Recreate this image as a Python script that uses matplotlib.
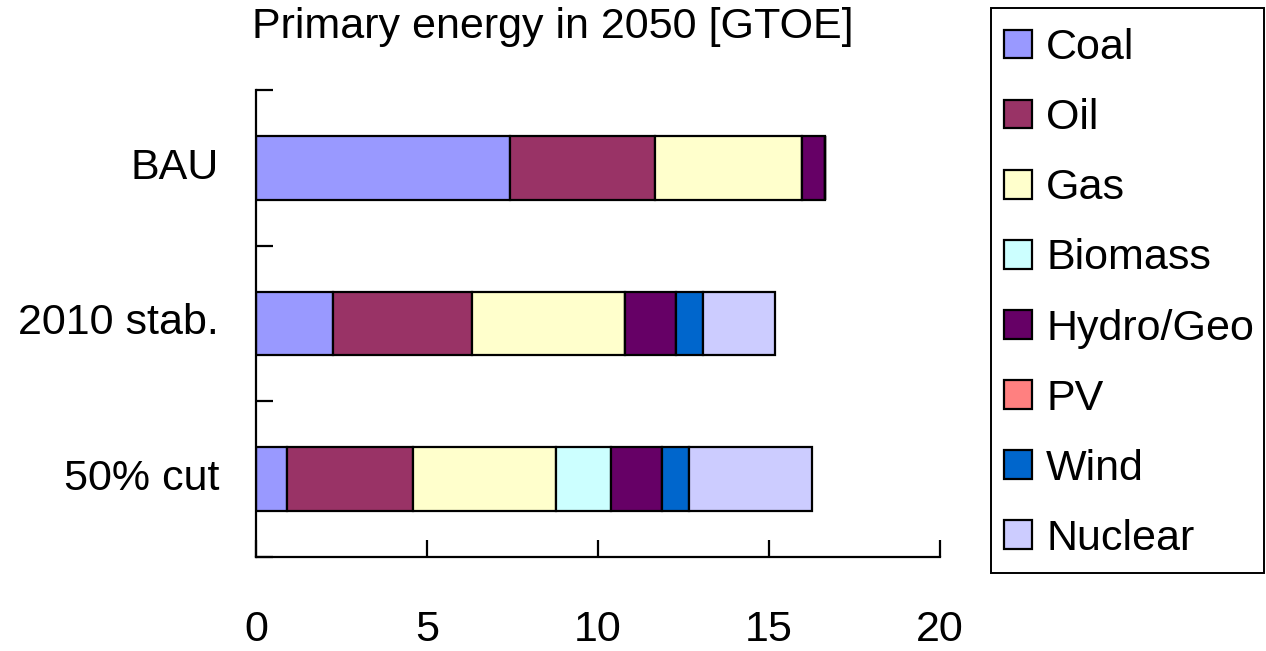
import numpy as np
import matplotlib
matplotlib.use("Agg")
import matplotlib.pyplot as plt
from matplotlib.patches import Rectangle
from matplotlib.transforms import blended_transform_factory

plt.rcParams['font.family'] = ['Liberation Sans', 'DejaVu Sans']

# scenarios, top to bottom
scenarios = ['BAU', '2010 stab.', '50% cut']
sources = ['Coal', 'Oil', 'Gas', 'Biomass', 'Hydro/Geo', 'PV', 'Wind', 'Nuclear']

# primary energy in 2050 [GTOE] per source, one value per scenario
coal = [7.42, 2.25, 0.92]
oil = [4.26, 4.06, 3.66]
gas = [4.29, 4.49, 4.18]
biomass = [0.0, 0.0, 1.63]
hydro_geo = [0.68, 1.48, 1.48]
pv = [0.0, 0.0, 0.0]
wind = [0.0, 0.80, 0.79]
nuclear = [0.0, 2.11, 3.59]

colors = ['#9999FF', '#993366', '#FFFFCC', '#CCFFFF',
          '#660066', '#FF8080', '#0066CC', '#CCCCFF']

series = [coal, oil, gas, biomass, hydro_geo, pv, wind, nuclear]
FS = 31
W, H = 1266, 651

fig = plt.figure(figsize=(W / 100, H / 100), dpi=100)
ax = fig.add_axes([256 / W, 1 - 557 / H, 684 / W, 467 / H])

y = np.arange(len(scenarios))
left = np.zeros(len(scenarios))
for name, vals, col in zip(sources, series, colors):
    vals = np.array(vals)
    ax.barh(y, vals, left=left, height=0.41, color=col,
            edgecolor='black', linewidth=1.6, label=name)
    left += vals

ax.set_xlim(0, 20)
ax.set_ylim(2.5, -0.5)
ax.set_xticks([0, 5, 10, 15, 20])
ax.set_yticks([-0.5, 0.5, 1.5, 2.5])
ax.set_yticklabels([])
ax.tick_params(axis='x', direction='in', length=12, width=1.6,
               labelsize=FS, pad=38)
ax.tick_params(axis='y', direction='in', length=12, width=1.6)
for s in ['top', 'right']:
    ax.spines[s].set_visible(False)
for s in ['left', 'bottom']:
    ax.spines[s].set_linewidth(1.6)

# scenario names, right-aligned a fixed distance left of the axis
trans = blended_transform_factory(fig.transFigure, ax.transData)
for yi, txt in zip(y, scenarios):
    ax.text(219 / W, yi, txt, transform=trans,
            ha='right', va='center', fontsize=FS)

fig.text(553 / W, 1 - 27 / H, 'Primary energy in 2050 [GTOE]',
         ha='center', va='center', fontsize=FS)

# legend entries without frame, box drawn separately
leg = fig.legend(loc='upper left', bbox_to_anchor=(1004 / W, 1 - 28 / H),
                 fontsize=FS, frameon=False,
                 handlelength=0.65, handleheight=0.65, handletextpad=0.33,
                 labelspacing=0.70, borderpad=0, borderaxespad=0)
fig.patches.append(Rectangle((991 / W, 1 - 573 / H), 273 / W, 565 / H,
                             transform=fig.transFigure, fill=False,
                             edgecolor='black', linewidth=1.4))

fig.savefig('out.png', dpi=100)
